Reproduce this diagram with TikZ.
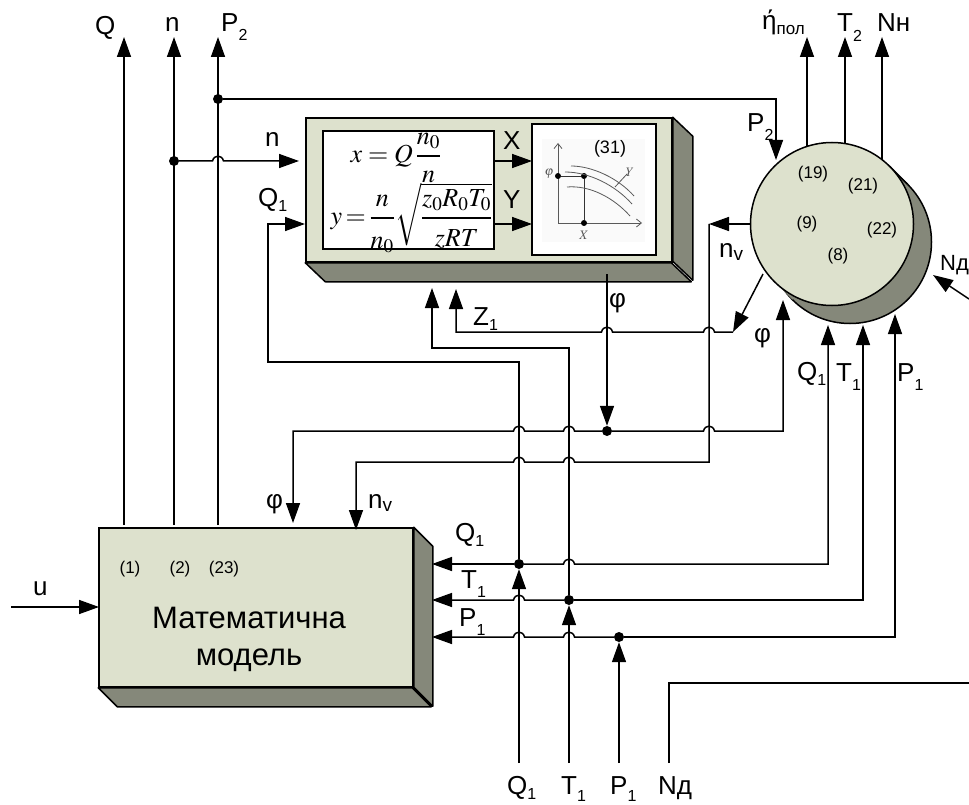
\documentclass[tikz,border=0pt]{standalone}
\usepackage{mathptmx}
\usepackage[no-math]{fontspec}
\setmainfont{Liberation Sans}
\usetikzlibrary{arrows.meta}

\definecolor{facecol}{RGB}{221,225,205}
\definecolor{sidecol}{RGB}{133,136,122}

\newcommand{\lowidx}[2][9pt]{\raisebox{-#1}{\fontsize{16}{16}\selectfont #2}}
\newcommand{\hopx}[2]{-- (#1-5.5,#2) .. controls (#1-4,#2-6.5) and (#1+4,#2-6.5) .. (#1+5.5,#2)}

\begin{document}
\begin{tikzpicture}[
		x=1pt, y=-1pt,
		sig/.style={line width=1.5pt, -{Triangle[length=20pt,width=14pt]}},
		rsig/.style={line width=1.5pt, {Triangle[length=20pt,width=14pt]}-},
		wire/.style={line width=1.5pt},
		face/.style={draw, line width=1.5pt, fill=facecol, inner sep=0pt},
		side/.style={draw, line width=1.5pt, fill=sidecol, line join=round},
		paper/.style={draw, line width=1.3pt, fill=white, inner sep=0pt},
		junction/.style={circle, fill=black, inner sep=0pt, minimum size=10pt},
		lbl/.style={font=\fontsize{26}{26}\selectfont, inner sep=0pt, anchor=base west},
		num/.style={font=\fontsize{17}{17}\selectfont, inner sep=0pt},
		eq/.style={font=\fontsize{26}{30}\selectfont, inner sep=0pt},
		plot/.style={line width=0.8pt, draw=black!65},
		small/.style={font=\fontsize{13}{13}\selectfont, text=black!65, inner sep=0pt}
		]
		\useasboundingbox (0,0) rectangle (969,805);
		
		% --- Blocks ---
		\node[face, minimum width=314pt, minimum height=159pt] (model) at (256,607.5) {};
		\draw[side] (model.north east) -- ++(19,19) -- ++(0,160) -- ++(-19,-19) -- cycle;
		\draw[side] (model.south west) -- ++(19,19) -- ++(314,0) -- ++(-19,-19) -- cycle;
		
		\node[face, minimum width=366pt, minimum height=144pt] (func) at (489,190) {};
		\draw[side] (func.north east) -- ++(20,19) -- ++(0,144) -- ++(-20,-19) -- cycle;
		\draw[side] (func.south west) -- ++(20,19) -- ++(366,0) -- ++(-20,-19) -- cycle;
		\node[paper, minimum width=171pt, minimum height=118pt] (formula) at (408.5,190) {};
		\node[paper, minimum width=124pt, minimum height=131pt] (graph) at (594,189.5) {};
		
		\node[circle, side, minimum size=163pt, inner sep=0pt] (shaftback) at (850,242) {};
		\fill[sidecol] (832,224) ++(57.6,-57.6) -- ++(18,18) -- ++(-115.2,115.2) -- ++(-18,-18) -- cycle;
		\draw[side] (889.6,166.4) -- ++(18,18);
		\node[circle, face, minimum size=163pt] (shaft) at (832,224) {};
		
		% --- Formulas ---
		\begin{scope}
			\clip (formula.north west) rectangle (494,183);
			\node[eq, anchor=base] (eqx) at (396,162.5) {$\displaystyle x=Q\,\frac{n_0}{\rule{0pt}{23pt}n}$};
		\end{scope}
		\node[eq, anchor=base east] (eqy) at (492.5,224.5) {$\displaystyle y\mkern-1.5mu=\mkern-1.5mu\frac{n}{\rule{0pt}{27pt}n_0}\sqrt{\smash{\frac{z_0R_0T_0}{\rule{0pt}{25pt}zRT}}\rule[-21pt]{0pt}{56pt}}$};
		
		% --- Graph in the paper box ---
		\fill[black!2] (542,139) rectangle (645,242);
		\coordinate (axisTop) at (558,143);
		\coordinate (axisOrig) at (558,223);
		\coordinate (axisEnd) at (642,223);
		\draw[plot, {Straight Barb[length=5pt,width=8pt]}-{Straight Barb[length=5pt,width=8pt]}] (axisTop) -- (axisOrig) -- (axisEnd);
		\node[junction, minimum size=6pt] (ptA) at (558,176) {};
		\node[junction, minimum size=6pt] (ptB) at (584,176) {};
		\node[junction, minimum size=6pt] (ptC) at (584,223) {};
		\draw[plot, draw=black!80] (ptA) -- (ptB) -- (ptC);
		\draw[plot] (571,166) .. controls (592,166) and (618,178) .. (634,196);
		\draw[plot] (565,172) .. controls (590,172) and (616,186) .. (632,204);
		\draw[plot] (567,187) .. controls (590,185) and (614,198) .. (630,216);
		\draw[plot] (615,187) -- (627,174);
		\node[small] (phiSmall) at (549,174) {$\varphi$};
		\node[small] (xSmall) at (584,235) {$X$};
		\node[small] (ySmall) at (630,172) {$Y$};
		\node[num, font=\fontsize{18}{18}\selectfont] (n31) at (610,149) {(31)};
		
		% --- Free ends of the connectors ---
		\foreach \name/\x/\y in {
			qFoot/124/525, qTop/124/37, nFoot/174/525, nTop/174/37, ptFoot/218/525, ptTop/218/37,
			ptIn/776/160, nIn/299/161, xOut/494/161, xIn/532/161, yOut/494/224, yIn/532/224,
			qBot/519/763, tBot/569/763, pBot/619/763, ndBot/669/763, ndRight/969/683,
			qLeft/268/362, qIn/305/224, tLeft/432/348, tTip/432/288,
			railQ/432/564, railT/432/600, railP/432/637,
			qShaft/828/325, tShaft/863/325, pShaft/895/314,
			phiTop/607/274, phiModel/293/523, phiCorner/293/431, phiShaft/783/300,
			nvTip/709/224, nvModel/356/530, nvCorner/356/462,
			zOut/763/274, zElbow/733/332, zTip/456/289, zCorner/456/332,
			etaFoot/807/146, etaTop/807/37, ttFoot/845/143, ttTop/845/37, nhFoot/882/160, nhTop/882/37,
			ndEdge/969/299, ndTip/933/275, uStart/11/607, uEnd/99/607}
			\coordinate (\name) at (\x,\y);
		
		% --- Junctions ---
		\node[junction] (dotPt) at (218,99) {};
		\node[junction] (dotN) at (174,161) {};
		\node[junction] (dotQ) at (519,564) {};
		\node[junction] (dotT) at (569,600) {};
		\node[junction] (dotP) at (619,637) {};
		\node[junction] (dotPhi) at (607,431) {};
		
		% --- Outputs of the model ---
		\draw[sig] (qFoot) -- (qTop);
		\draw[sig] (nFoot) -- (nTop);
		\draw[sig] (ptFoot) -- (ptTop);
		\draw[sig] (dotPt) -| (ptIn);
		\draw[sig] (dotN) \hopx{218}{161} -- (nIn);
		\draw[sig] (uStart) -- (uEnd);
		
		% --- Inside the function block ---
		\draw[sig] (xOut) -- (xIn);
		\draw[sig] (yOut) -- (yIn);
		
		% --- Measured values from below ---
		\draw[sig] (qBot) -- (dotQ);
		\draw[sig] (tBot) -- (dotT);
		\draw[sig] (pBot) -- (dotP);
		\draw[sig] (dotQ) |- (qLeft) |- (qIn);
		\draw[sig] (dotT) |- (tLeft) -- (tTip);
		\draw[wire] (ndBot) |- (ndRight);
		
		% --- Rails between model and compressor ---
		\draw[rsig] (railQ) -- (dotQ);
		\draw[sig] (dotQ) \hopx{569}{564} -| (qShaft);
		\draw[rsig] (railT) \hopx{519}{600} -- (dotT);
		\draw[sig] (dotT) -| (tShaft);
		\draw[rsig] (railP) \hopx{519}{637} \hopx{569}{637} -- (dotP);
		\draw[sig] (dotP) -| (pShaft);
		
		% --- Feedback lines ---
		\draw[sig] (phiTop) -- (dotPhi);
		\draw[rsig] (phiModel) -- (phiCorner) \hopx{519}{431} \hopx{569}{431} -- (dotPhi);
		\draw[sig] (dotPhi) \hopx{709}{431} -| (phiShaft);
		\draw[sig] (shaft.west) -- (nvTip);
		\draw[rsig] (nvModel) -- (nvCorner) \hopx{519}{462} \hopx{569}{462} -| (nvTip);
		\draw[sig] (zOut) -- (zElbow);
		\draw[rsig] (zTip) -- (zCorner) \hopx{607}{332} \hopx{709}{332} -- (zElbow);
		
		% --- Outputs of the compressor ---
		\draw[sig] (etaFoot) -- (etaTop);
		\draw[sig] (ttFoot) -- (ttTop);
		\draw[sig] (nhFoot) -- (nhTop);
		\draw[sig] (ndEdge) -- (ndTip);
		
		% --- Labels ---
		\node[lbl] (lQ) at (95,35) {Q};
		\node[lbl] (lN) at (165,32) {n};
		\node[lbl] (lPt) at (221,32) {P\lowidx{2}};
		\node[lbl] (lNin) at (265,147) {n};
		\node[lbl] (lQin) at (258,207) {Q\lowidx[5pt]{1}};
		\node[lbl] (lX) at (503,150) {X};
		\node[lbl] (lY) at (503,209) {Y};
		\node[lbl] (lPti) at (747,132) {P\lowidx{2}};
		\node[lbl] (lNv) at (719,257) {n\raisebox{-3pt}{\fontsize{19}{19}\selectfont v}};
		\node[lbl] (lPhiR) at (754,342) {φ};
		\node[lbl] (lQs) at (797,380) {Q\lowidx[5pt]{1}};
		\node[lbl] (lTs) at (836,381) {T\lowidx{1}};
		\node[lbl] (lPs) at (897,381) {P\lowidx{1}};
		\node[lbl, font=\fontsize{22}{22}\selectfont] (lNd) at (940,270) {Nд};
		\node[lbl] (lEta) at (762,30) {ή\raisebox{-5pt}{\fontsize{17}{17}\selectfont пол}};
		\node[lbl] (lTt) at (837,32) {T\lowidx[10pt]{2}};
		\node[lbl] (lNh) at (877,32) {Nн};
		\node[lbl] (lPhiB) at (609,307) {φ};
		\node[lbl] (lZ) at (473,325) {Z\lowidx[5pt]{1}};
		\node[lbl] (lPhiM) at (266,508) {φ};
		\node[lbl] (lNvM) at (368,508) {n\raisebox{-3pt}{\fontsize{19}{19}\selectfont v}};
		\node[lbl] (lQm) at (455,541) {Q\lowidx[5pt]{1}};
		\node[lbl] (lTm) at (461,588) {T\lowidx{1}};
		\node[lbl] (lPm) at (459,626) {P\lowidx{1}};
		\node[lbl] (lU) at (33,595) {u};
		\node[lbl] (lQb) at (507,794) {Q\lowidx[5pt]{1}};
		\node[lbl] (lTb) at (561,794) {T\lowidx[7pt]{1}};
		\node[lbl] (lPb) at (610,794) {P\lowidx[7pt]{1}};
		\node[lbl] (lNb) at (658,794) {Nд};
		
		\node[num] (n19) at (813,174) {(19)};
		\node[num] (n21) at (863,186) {(21)};
		\node[num] (n9) at (807,224) {(9)};
		\node[num] (n22) at (882,230) {(22)};
		\node[num] (n8) at (838,256) {(8)};
		\node[num] (n1) at (130,569) {(1)};
		\node[num] (n2) at (180,569) {(2)};
		\node[num] (n23) at (224,569) {(23)};
		
		\node[font=\fontsize{31}{37}\selectfont, align=center, inner sep=0pt] (title) at (249,639) {Математична\\модель};
		
	\end{tikzpicture}
\end{document}
